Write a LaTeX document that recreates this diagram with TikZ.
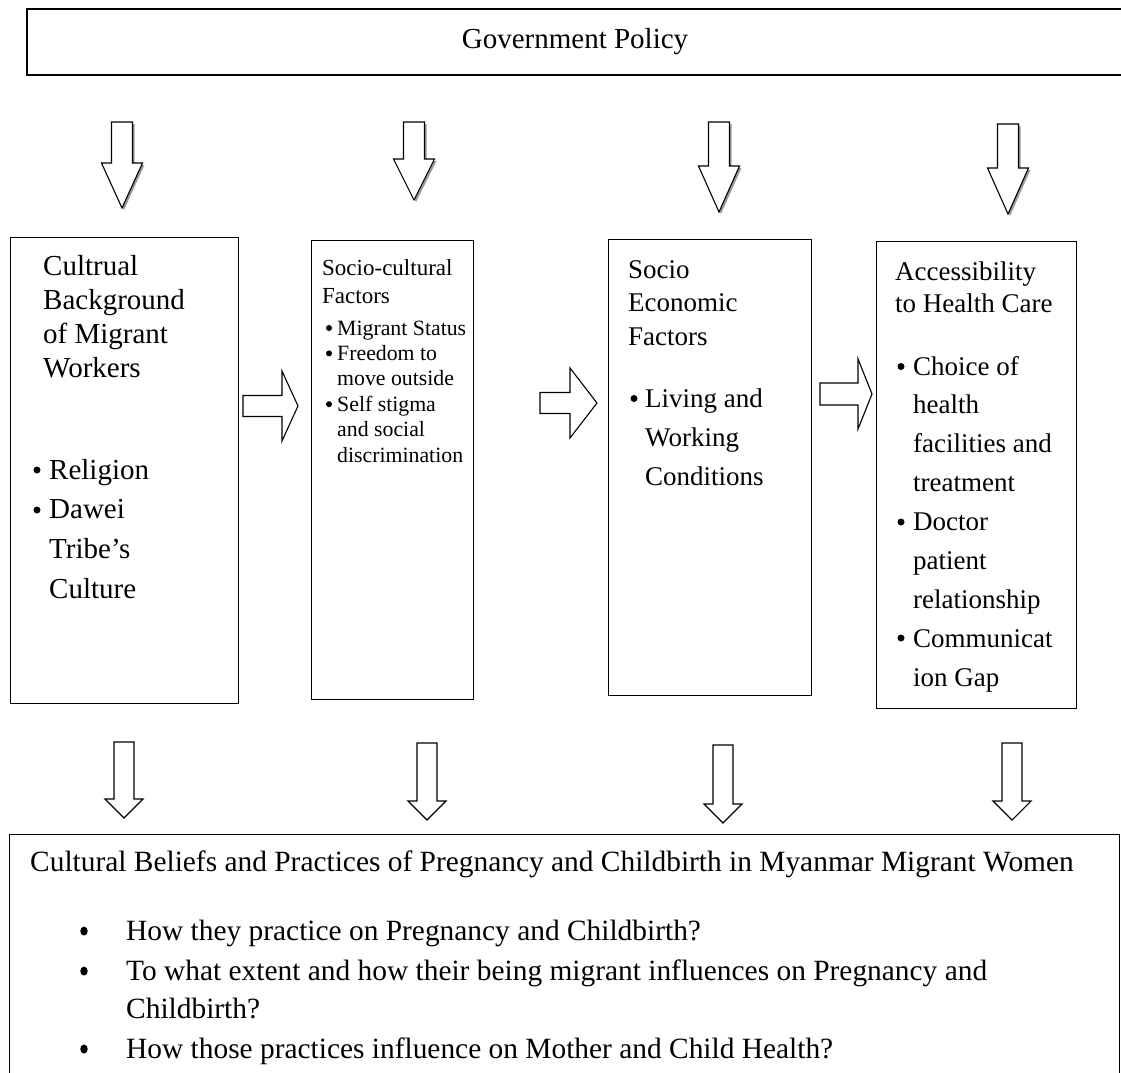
\documentclass[tikz,border=0pt]{standalone}
\usepackage{fontspec}
\setmainfont{Liberation Serif}
\newcommand{\fsz}[2]{\fontsize{#1}{#2}\selectfont}
\newcommand{\downarr}[6]{%
  \draw[blk] ({#1-#5},{#2}) -- ({#1+#5},{#2}) -- ({#1+#5},{#3}) -- ({#1+#6},{#3}) -- ({#1},{#4}) -- ({#1-#6},{#3}) -- ({#1-#5},{#3}) -- cycle;}
\newcommand{\shadowdownarr}[6]{%
  \fill[black!40] ({#1-#5+2},{#2+2}) -- ({#1+#5+2},{#2+2}) -- ({#1+#5+2},{#3+2}) -- ({#1+#6+2},{#3+2}) -- ({#1+2},{#4+2}) -- ({#1-#6+2},{#3+2}) -- ({#1-#5+2},{#3+2}) -- cycle;
  \downarr{#1}{#2}{#3}{#4}{#5}{#6}}
\newcommand{\rightarr}[6]{% x0, xhead, xtip, yc, shafthalf, headhalf
  \draw[blk] ({#1},{#4-#5}) -- ({#2},{#4-#5}) -- ({#2},{#4-#6}) -- ({#3},{#4}) -- ({#2},{#4+#6}) -- ({#2},{#4+#5}) -- ({#1},{#4+#5}) -- cycle;}
\newcommand{\txtlines}[5]{%
  \foreach \t [count=\i] in {#5} \node[txt] (#1\i) at ({#2},{#3+#4*(\i-1)}) {\t};}
\tikzset{
  box/.style={draw, line width=1.3pt, inner sep=0pt, anchor=north west},
  blk/.style={draw, line width=1.1pt, fill=white, line join=miter},
  txt/.style={inner sep=0pt, anchor=base west},
  bul/.style={circle, fill=black, inner sep=0pt, minimum size=7pt},
  sbul/.style={circle, fill=black, inner sep=0pt, minimum size=6pt},
  lbul/.style={ellipse, fill=black, inner sep=0pt, minimum width=7.5pt, minimum height=9pt},
}
\usetikzlibrary{shapes.geometric}
\begin{document}
\begin{tikzpicture}[x=1pt, y=-1pt]
\useasboundingbox (0,0) rectangle (1121,1072);
\clip (0,0) rectangle (1121,1072);

% top box
\node[box, line width=1.8pt, minimum width=1110pt, minimum height=66pt] (gov) at (26,8) {};
\node[inner sep=0pt, anchor=base, font=\fsz{29}{34}] (govt) at (575,48) {Government Policy};

% four middle boxes
\node[box, minimum width=228pt, minimum height=466pt] (b1) at (10,237) {};
\node[box, minimum width=162pt, minimum height=459pt] (b2) at (311,240) {};
\node[box, minimum width=203pt, minimum height=456pt] (b3) at (608,239) {};
\node[box, minimum width=200pt, minimum height=467pt] (b4) at (876,241) {};

% bottom box
\node[box, minimum width=1110pt, minimum height=260pt] (bot) at (9,834) {};

% top arrows
\shadowdownarr{122}{122}{163}{208}{10.5}{20.5}
\shadowdownarr{414}{122}{159}{200}{10.5}{20.5}
\shadowdownarr{719}{122}{166}{212}{10.5}{20.5}
\shadowdownarr{1008}{124}{168}{214}{10.5}{20.5}

% horizontal arrows
\rightarr{243}{282}{298}{406}{10.5}{35}
\rightarr{540}{570}{597}{403}{10.5}{35}
\rightarr{820}{858}{872}{394}{11}{35}

% bottom arrows
\downarr{124}{742}{799}{818}{10}{19}
\downarr{427}{743}{801}{820}{10}{19}
\downarr{723}{745}{804}{823}{10}{19}
\downarr{1012}{743}{801}{820}{10}{19}

% box 1 text
\begin{scope}[font=\fsz{29}{34}]
\txtlines{h1l}{43}{275}{34}{Cultrual,Background,of Migrant,Workers}
\txtlines{i1l}{49}{479}{39.7}{Religion,Dawei,Tribe’s,Culture}
\end{scope}
\node[bul] (d1a) at (37,470) {};
\node[bul] (d1b) at (37,510) {};

% box 2 text
\begin{scope}[font=\fsz{23}{28}]
\txtlines{h2l}{322}{275}{28}{Socio-cultural,Factors}
\end{scope}
\begin{scope}[font=\fsz{21.8}{26}]
\txtlines{i2l}{337}{335}{25.4}{Migrant Status,Freedom to,move outside,Self stigma,and social,discrimination}
\end{scope}
\node[sbul] (d2a) at (329,328) {};
\node[sbul] (d2b) at (329,353.4) {};
\node[sbul] (d2c) at (329,404.2) {};

% box 3 text
\begin{scope}[font=\fsz{27}{33}]
\txtlines{h3l}{628}{278}{33.5}{Socio,Economic,Factors}
\txtlines{i3l}{645}{407}{39}{Living and,Working,Conditions}
\end{scope}
\node[bul] (d3a) at (634,398.5) {};

% box 4 text
\begin{scope}[font=\fsz{27}{33}]
\txtlines{h4l}{895}{280}{32.5}{Accessibility,to Health Care}
\txtlines{i4l}{913}{375}{38.9}{Choice of,health,facilities and,treatment,Doctor,patient,relationship,Communicat,ion Gap}
\end{scope}
\node[bul] (d4a) at (901,366.5) {};
\node[bul] (d4b) at (901,522) {};
\node[bul] (d4c) at (901,638) {};

% bottom box text
\begin{scope}[font=\fsz{29.4}{34}]
\node[txt] (bt) at (30,871) {Cultural Beliefs and Practices of Pregnancy and Childbirth in Myanmar Migrant Women};
\node[txt] (q1) at (126,940) {How they practice on Pregnancy and Childbirth?};
\node[txt] (q2) at (126,980) {To what extent and how their being migrant influences on Pregnancy and};
\node[txt] (q2b) at (126,1018) {Childbirth?};
\node[txt] (q3) at (126,1058) {How those practices influence on Mother and Child Health?};
\end{scope}
\node[lbul] (dq1) at (84,931) {};
\node[lbul] (dq2) at (84,971) {};
\node[lbul] (dq3) at (84,1049) {};
\end{tikzpicture}
\end{document}
